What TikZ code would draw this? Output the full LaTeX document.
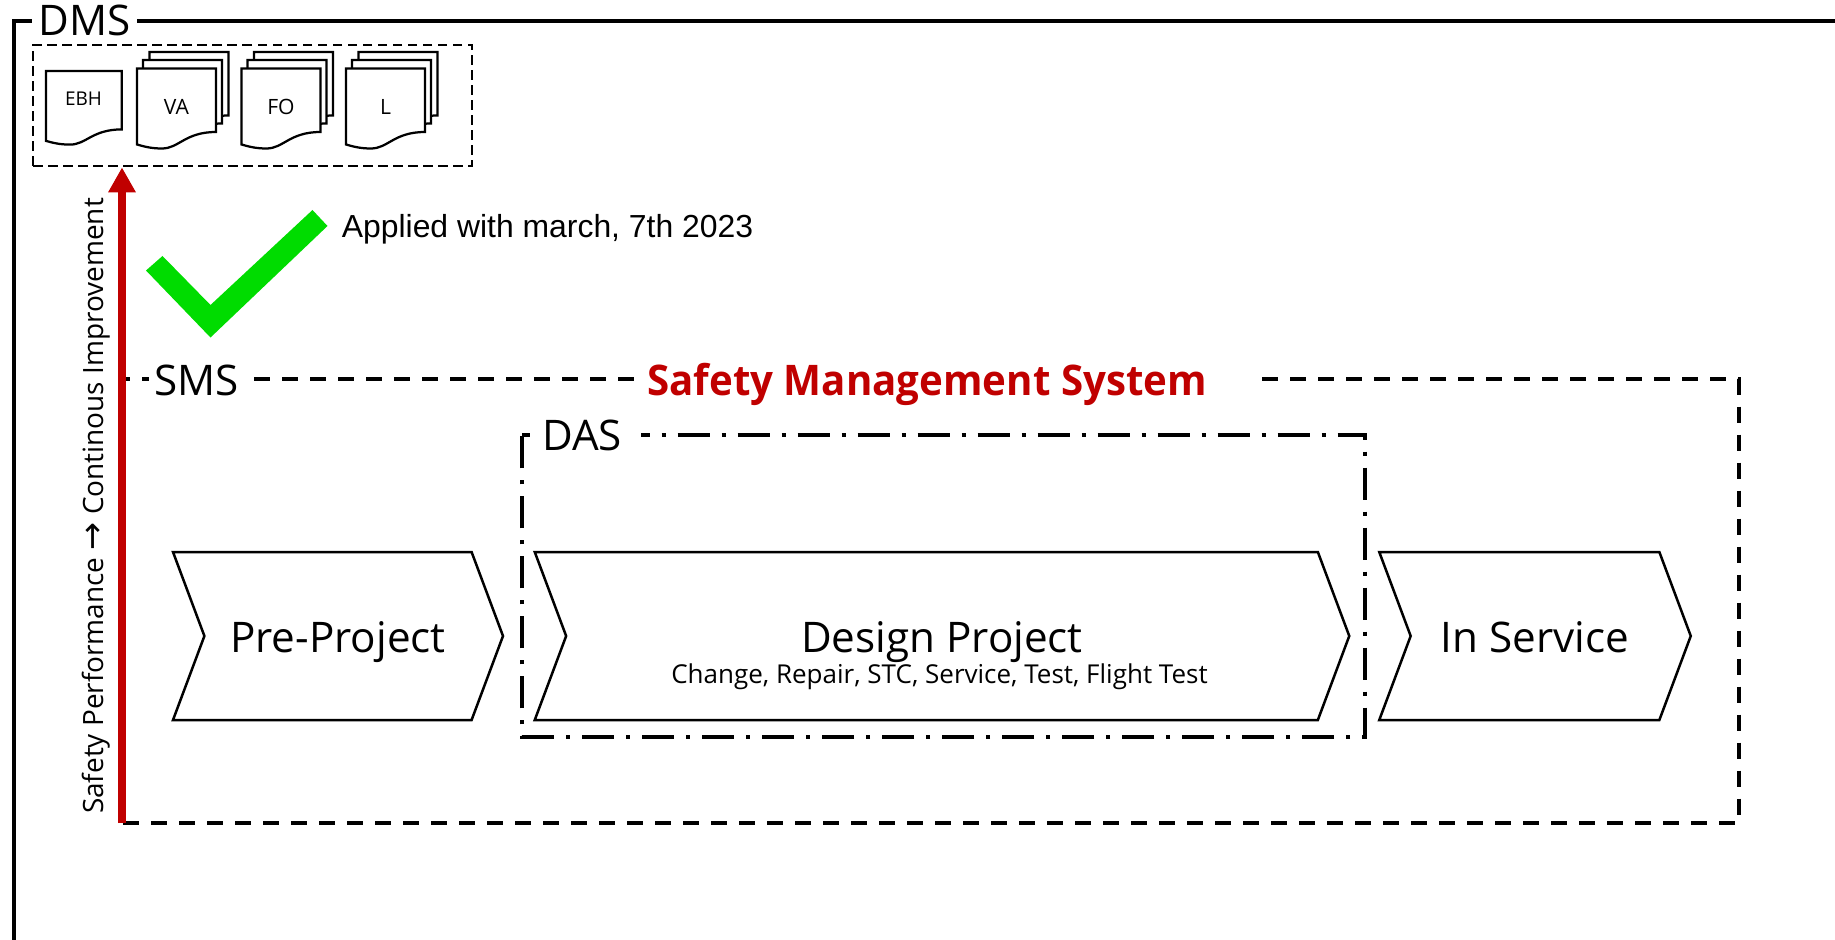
\documentclass[tikz,border=0pt]{standalone}
\usepackage{fontspec}
\setmainfont{Open Sans}
\newfontfamily\titlefont[FakeStretch=0.954]{Open Sans}
\newfontfamily\arialfont{Liberation Sans}
\newfontfamily\arrowfont{DejaVu Sans}
\usetikzlibrary{arrows.meta,shapes.symbols}
\definecolor{smsred}{HTML}{C00000}
\definecolor{checkgreen}{HTML}{00DC00}
\tikzset{
    pageline/.style={draw=black, fill=white, line width=0.045cm},
    docpage/.pic={
        \path[pageline] (0,0) -- (1.58,0) -- (1.58,-1.27)
            .. controls (0.96,-1.27) and (0.84,-1.6) .. (0.5,-1.6)
            .. controls (0.28,-1.6) and (0.14,-1.56) .. (0,-1.52) -- cycle;
    },
    docstack/.pic={
        \pic at (0.25,0.33) {docpage};
        \pic at (0.12,0.17) {docpage};
        \pic at (0,0) {docpage};
    }
}
\begin{document}
\begin{tikzpicture}[
        biglabel/.style={fill=white, inner ysep=0pt, anchor=base, font=\fontsize{24}{28}\selectfont},
        doclabel/.style={inner sep=0pt, anchor=base, font=\fontsize{12}{14}\selectfont},
        chevron/.style={signal, signal from=west, signal to=east, signal pointer angle=139, draw=black, line width=0.05cm,
            minimum height=3.36cm, text height=0.8cm, text depth=0.16cm, inner sep=0pt, font=\fontsize{24}{28}\selectfont},
        docframe/.style={rectangle, draw=black, line width=0.055cm, dash pattern=on 0.19cm off 0.11cm,
            minimum width=8.78cm, minimum height=2.42cm},
        dmsline/.style={line width=0.08cm},
        smsline/.style={line width=0.08cm, dash pattern=on 0.32cm off 0.24cm, dash phase=0.16cm},
        dasline/.style={line width=0.08cm, dash pattern=on 0.64cm off 0.24cm on 0.08cm off 0.24cm, dash phase=0.49cm},
        improvearrow/.style={-{Triangle[length=0.5cm, width=0.52cm]}, line width=0.17cm, draw=smsred, fill=smsred}
    ]
    \useasboundingbox (0,0) rectangle (36.7,-18.8);

    % DMS frame
    \draw[dmsline] (0.27,-18.8) |- (36.7,-0.42);
    \node[biglabel, inner xsep=0.14cm] (dms) at (1.69,-0.72) {DMS};

    % Documents
    \node[docframe] (docs) at (5.05,-2.11) {};
    \pic[xscale=0.96, yscale=0.92] at (0.92,-1.42) {docpage};
    \node[doclabel, font=\fontsize{10.8}{13}\selectfont] (ebh) at (1.67,-2.12) {EBH};
    \foreach \nm/\x/\lab in {va/2.74/VA, fo/4.83/FO, l/6.92/L} {
        \pic at (\x,-1.37) {docstack};
        \node[doclabel] (\nm) at (\x+0.79,-2.3) {\lab};
    }

    % Applied mark
    \fill[checkgreen] (6.25,-4.2) -- (6.55,-4.52) -- (4.21,-6.75) -- (2.92,-5.41) -- (3.25,-5.12) -- (4.21,-6.1) -- cycle;
    \node[anchor=base west, inner sep=0pt, font=\arialfont\fontsize{18.15}{22}\selectfont] (applied) at (6.83,-4.76) {Applied with march, 7th 2023};

    % SMS frame
    \coordinate (smstl) at (2.44,-7.58);
    \coordinate (smstr) at (34.77,-7.58);
    \coordinate (smsbr) at (34.77,-16.46);
    \coordinate (smsbl) at (2.44,-16.46);
    \draw[smsline] (smstl) -- (smstr) -- (smsbr) -- (smsbl);
    \node[biglabel, inner xsep=0.11cm] (sms) at (3.93,-7.9) {SMS};
    \node[biglabel, anchor=base west, inner xsep=0.1cm, text=smsred, font=\titlefont\fontsize{24}{28}\selectfont\bfseries] (smstitle) at (12.84,-7.9) {Safety Management System\hspace{0.9cm}\null};

    % DAS frame
    \coordinate (dastl) at (10.44,-8.7);
    \coordinate (dastr) at (27.3,-8.7);
    \coordinate (dasbr) at (27.3,-14.73);
    \coordinate (dasbl) at (10.44,-14.73);
    \draw[dasline] (dastl) -- (dastr) -- (dasbr) -- (dasbl) -- cycle;
    \node[biglabel, anchor=base west, inner xsep=0.06cm] (das) at (10.78,-9.0) {DAS\hspace{0.32cm}\null};

    % Phases
    \node[chevron, minimum width=6.6cm] (preproject) at (6.76,-12.72) {Pre-Project};
    \node[chevron, minimum width=16.29cm] (design) at (18.84,-12.72) {Design Project};
    \node[chevron, minimum width=6.23cm] (inservice) at (30.7,-12.72) {In Service};
    \node[anchor=base, inner sep=0pt, font=\fontsize{14.8}{18}\selectfont] (designsub) at (18.79,-13.66) {Change, Repair, STC, Service, Test, Flight Test};

    % Improvement arrow
    \draw[improvearrow] (smsbl) -- (smsbl |- docs.south);
    \node[rotate=90, anchor=base, inner sep=0pt, font=\fontsize{15.9}{19}\selectfont] (perf) at (2.06,-10.12) {Safety Performance {\arrowfont\fontsize{19}{19}\selectfont→} Continous Improvement};

\end{tikzpicture}
\end{document}
